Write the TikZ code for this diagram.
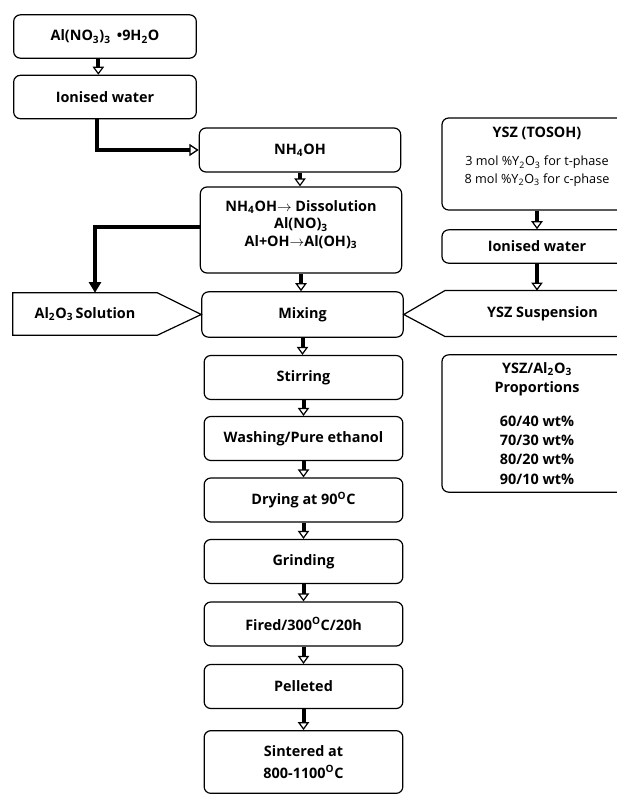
\documentclass[tikz,border=0pt]{standalone}
\usepackage{fontspec}
\setmainfont{Open Sans}
\usetikzlibrary{arrows.meta}
\newcommand{\yszsmall}{\mdseries\fontsize{9.5}{13}\selectfont}

\begin{document}
\begin{tikzpicture}[x=0.75pt,y=-0.75pt,
    procbox/.style={draw,line width=0.9pt,rounded corners=5pt,align=center,inner sep=2pt,
      font=\bfseries\fontsize{10.8}{13}\selectfont},
    leftbox/.style={procbox,minimum width=137pt,minimum height=32.5pt},
    midbox/.style={procbox,minimum width=151pt,minimum height=33pt},
    rightbox/.style={procbox,minimum width=142.5pt},
    flatpart/.style={inner sep=0pt,font=\bfseries\fontsize{10.8}{13}\selectfont},
    flowarr/.style={line width=3pt,-{Triangle[open,width=8.5pt,length=6pt,line width=0.9pt]}},
    feedarr/.style={line width=3pt}]
    \useasboundingbox (0,0) rectangle (617,797);
    \clip (0,0) rectangle (617,797);
    % Alumina precursor
    \node[leftbox] (al) at (105,36.5) {Al(NO\textsubscript{3})\textsubscript{3} \,\textbullet 9H\textsubscript{2}O};
    \node[leftbox] (water1) at (105,97) {Ionised water};
    % Main column
    \node[midbox] (nh4) at (300,150) {NH\textsubscript{4}OH};
    \node[midbox,minimum height=64.5pt] (diss) at (301,230)
      {NH\textsubscript{4}OH$\rightarrow$ Dissolution\\Al(NO)\textsubscript{3}\\Al+OH$\rightarrow$Al(OH)\textsubscript{3}\\[-3pt]~};
    \node[midbox,minimum height=34pt] (mix) at (302.5,314.5) {Mixing};
    \node[midbox,minimum width=149pt] (stir) at (303.5,377.5) {Stirring};
    \node[midbox,minimum width=149pt] (wash) at (303.5,438.5) {Washing/Pure ethanol};
    \node[midbox,minimum width=149pt] (dry) at (303.5,500) {Drying at 90\textsuperscript{O}C};
    \node[midbox,minimum width=149pt] (grind) at (303.5,561.5) {Grinding};
    \node[midbox,minimum width=149pt] (fired) at (303.5,624) {Fired/300\textsuperscript{O}C/20h};
    \node[midbox,minimum width=149pt] (pellet) at (303.5,686.5) {Pelleted};
    \node[midbox,minimum width=149pt,minimum height=47pt] (sinter) at (303.5,762)
      {Sintered at\\[3pt]800-1100\textsuperscript{O}C};
    % YSZ column (runs past the right edge)
    \node[rightbox,minimum height=69pt] (ysz) at (537,164)
      {YSZ (TOSOH)\\[8pt]
       {\yszsmall 3 mol \%Y\textsubscript{2}O\textsubscript{3} for t-phase}\\[0pt]
       {\yszsmall 8 mol \%Y\textsubscript{2}O\textsubscript{3} for c-phase}\\[0pt]~};
    \node[rightbox,minimum height=25pt] (water2) at (537,246.5) {Ionised water};
    \node[rightbox,minimum height=103pt] (prop) at (537,423.5)
      {YSZ/Al\textsubscript{2}O\textsubscript{3}\\[1.5pt]Proportions\\[12pt]
       60/40 wt\%\\[1.5pt]70/30 wt\%\\[1.5pt]80/20 wt\%\\[1.5pt]90/10 wt\%};
    % Side inputs to mixing
    \node[flatpart,minimum width=108pt,minimum height=31.5pt] (sol) at (85,314)
      {Al\textsubscript{2}O\textsubscript{3}\,Solution};
    \draw[line width=0.9pt] (sol.north west) -- (sol.north east) -- (mix.west)
      -- (sol.south east) -- (sol.south west) -- cycle;
    \node[flatpart,minimum width=146pt,minimum height=34pt] (susp) at (542.5,313.5)
      {YSZ Suspension};
    \draw[line width=0.9pt] (susp.north east) -- (susp.north west) -- (mix.east)
      -- (susp.south west) -- (susp.south east);
    % Arrows
    \draw[flowarr] ([xshift=-5pt]al.south) -- ([xshift=-5pt]water1.north);
    \draw[feedarr,-{Triangle[open,width=9pt,length=7pt,line width=1pt]}]
      ([xshift=-6pt]water1.south) |- (nh4.west);
    \draw[feedarr,-{Triangle[width=9pt,length=8pt]}]
      ([yshift=2pt]diss.west) -| ([xshift=7.5pt]sol.north);
    \foreach \a/\b in {nh4/diss,diss/mix,mix/stir,stir/wash,wash/dry,dry/grind,grind/fired,fired/pellet,pellet/sinter}
      \draw[flowarr] (\a.south) -- (\a.south |- \b.north);
    \draw[flowarr] (ysz) -- (water2);
    \draw[flowarr] (water2.south) -- (water2.south |- susp.north);
  \end{tikzpicture}
\end{document}
